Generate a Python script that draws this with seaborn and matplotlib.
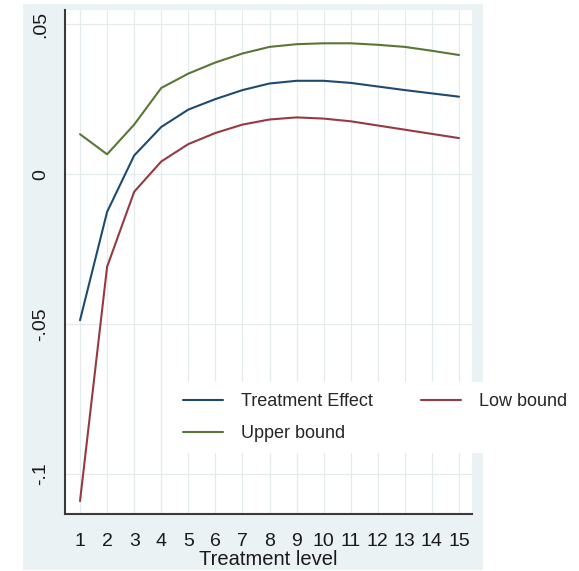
import matplotlib
matplotlib.use("Agg")
import matplotlib.pyplot as plt
import matplotlib.patches as mpatches
import pandas as pd
import seaborn as sns

# valores
nivel = list(range(1, 16))
efecto = [-0.0487, -0.0126, 0.0062, 0.0157, 0.0215, 0.0250, 0.0280, 0.0302,
          0.0311, 0.0311, 0.0304, 0.0292, 0.0280, 0.0269, 0.0258]
superior = [0.0133, 0.0066, 0.0165, 0.0287, 0.0335, 0.0372, 0.0402, 0.0424,
            0.0433, 0.0436, 0.0436, 0.0431, 0.0424, 0.0411, 0.0397]
inferior = [-0.1090, -0.0309, -0.0059, 0.0042, 0.0100, 0.0137, 0.0165, 0.0182,
            0.0189, 0.0185, 0.0176, 0.0162, 0.0148, 0.0134, 0.0120]

etiquetas = ["Treatment Effect", "Upper bound", "Low bound"]
colores = {"Treatment Effect": "#1f4a70", "Upper bound": "#5a7636",
           "Low bound": "#953a42"}

df = pd.DataFrame({"nivel": nivel, "Treatment Effect": efecto,
                   "Upper bound": superior, "Low bound": inferior})
largo = df.melt(id_vars="nivel", var_name="serie", value_name="valor")

sns.set_theme(style="white")
plt.rcParams["font.family"] = ["Liberation Sans", "DejaVu Sans"]

fig = plt.figure(figsize=(5.79, 5.71), dpi=100)
fig.patch.set_facecolor("white")
# región del gráfico estilo Stata (detrás de los ejes)
fig.patches.append(mpatches.Rectangle((0.0397, 0.0018), 0.7945, 0.991,
                                      transform=fig.transFigure,
                                      facecolor="#eaf2f3", edgecolor="none",
                                      zorder=-10))
ax = fig.add_axes([0.1123, 0.0998, 0.7029, 0.8827])
ax.set_facecolor("white")

sns.lineplot(data=largo, x="nivel", y="valor", hue="serie",
             hue_order=etiquetas, palette=colores, linewidth=1.5,
             legend=False, ax=ax)

ax.set_xlim(0.446, 15.48)
ax.set_ylim(-0.1133, 0.0547)
ax.set_xticks(nivel)
ax.set_xticklabels([str(n) for n in nivel])
ax.set_yticks([0.05, 0, -0.05, -0.1])
ax.set_yticklabels([".05", "0", "-.05", "-.1"], rotation=90, va="center")

ax.grid(True, color="#e3ebed", linewidth=0.9)
ax.set_axisbelow(True)
for lado in ["top", "right"]:
    ax.spines[lado].set_visible(False)
for lado in ["left", "bottom"]:
    ax.spines[lado].set_color("#3a3a3a")
    ax.spines[lado].set_linewidth(1.5)
ax.tick_params(axis="both", direction="out", length=5.5, width=1.2,
               color="#3a3a3a", labelsize=14, labelcolor="#1a1a1a")
ax.tick_params(axis="x", pad=8)
ax.tick_params(axis="y", pad=6)

ax.set_xlabel("Treatment level", fontsize=14.5, color="#1a1a1a", labelpad=0)
ax.set_ylabel("")

manejadores = [plt.Line2D([], [], color=colores[e], linewidth=1.5)
               for e in etiquetas]
ley = fig.legend(manejadores, etiquetas, loc="upper left",
                 bbox_to_anchor=(0.297, 0.331), ncol=2, fontsize=13,
                 frameon=True, fancybox=False, borderpad=0.6,
                 handlelength=2.2, handletextpad=1.0, columnspacing=2.7,
                 labelspacing=0.85, borderaxespad=0)
ley.get_frame().set_facecolor("white")
ley.get_frame().set_edgecolor("none")
ley.get_frame().set_alpha(1)

fig.savefig("out.png", dpi=100)
